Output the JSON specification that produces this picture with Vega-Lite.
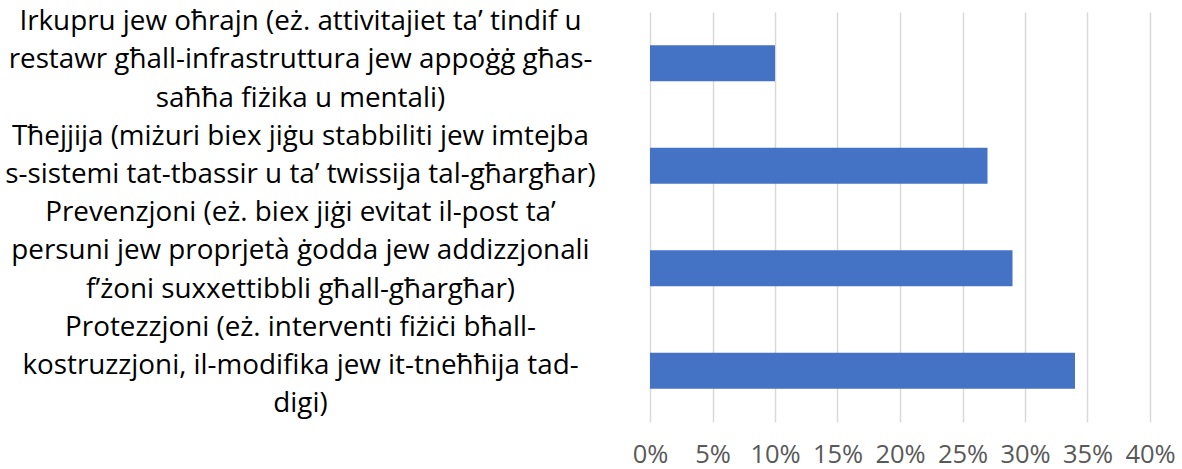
{
  "$schema": "https://vega.github.io/schema/vega-lite/v6.json",
  "autosize": "none",
  "padding": {"left": 650, "top": 12, "right": 32, "bottom": 47},
  "width": 500,
  "height": 410,
  "background": "white",
  "data": {
    "values": [
      {"category": "Irkupru jew oħrajn (eż. attivitajiet ta’ tindif u|restawr għall-infrastruttura jew appoġġ għas-|saħħa fiżika u mentali)", "share": 0.10},
      {"category": "Tħejjija (miżuri biex jiġu stabbiliti jew imtejba|s-sistemi tat-tbassir u ta’ twissija tal-għargħar)", "share": 0.27},
      {"category": "Prevenzjoni (eż. biex jiġi evitat il-post ta’|persuni jew proprjetà ġodda jew addizzjonali|f’żoni suxxettibbli għall-għargħar)", "share": 0.29},
      {"category": "Protezzjoni (eż. interventi fiżiċi bħall-|kostruzzjoni, il-modifika jew it-tneħħija tad-|digi)", "share": 0.34}
    ]
  },
  "mark": {"type": "bar", "color": "#4472C4"},
  "encoding": {
    "y": {
      "field": "category",
      "type": "nominal",
      "sort": null,
      "scale": {"paddingInner": 0.65, "paddingOuter": 0.325},
      "axis": {
        "title": null,
        "domain": false,
        "ticks": false,
        "grid": false,
        "labelExpr": "split(datum.label, '|')",
        "labelAlign": "center",
        "labelBaseline": "middle",
        "labelPadding": 350,
        "labelLimit": 800,
        "labelBound": false,
        "labelFont": "Open Sans",
        "labelFontSize": 27.8,
        "labelLineHeight": 38.2,
        "labelColor": "#000000",
        "labelOffset": {
          "condition": [
            {"test": "indexof(datum.value, 'Irkupru') >= 0", "value": -41},
            {"test": "indexof(datum.value, 'Tħejjija') >= 0", "value": -29},
            {"test": "indexof(datum.value, 'Prevenzjoni') >= 0", "value": -55}
          ],
          "value": -43
        }
      }
    },
    "x": {
      "field": "share",
      "type": "quantitative",
      "scale": {"domain": [0, 0.4], "nice": false},
      "axis": {
        "title": null,
        "format": ".0%",
        "values": [0, 0.05, 0.1, 0.15, 0.2, 0.25, 0.3, 0.35, 0.4],
        "domain": false,
        "ticks": false,
        "grid": true,
        "gridColor": "#D9D9D9",
        "gridWidth": 1.5,
        "labelFont": "Open Sans",
        "labelFontSize": 25.5,
        "labelColor": "#595959",
        "labelPadding": 40,
        "labelBaseline": "alphabetic",
        "labelFlush": false
      }
    }
  },
  "config": {"view": {"stroke": null}}
}
